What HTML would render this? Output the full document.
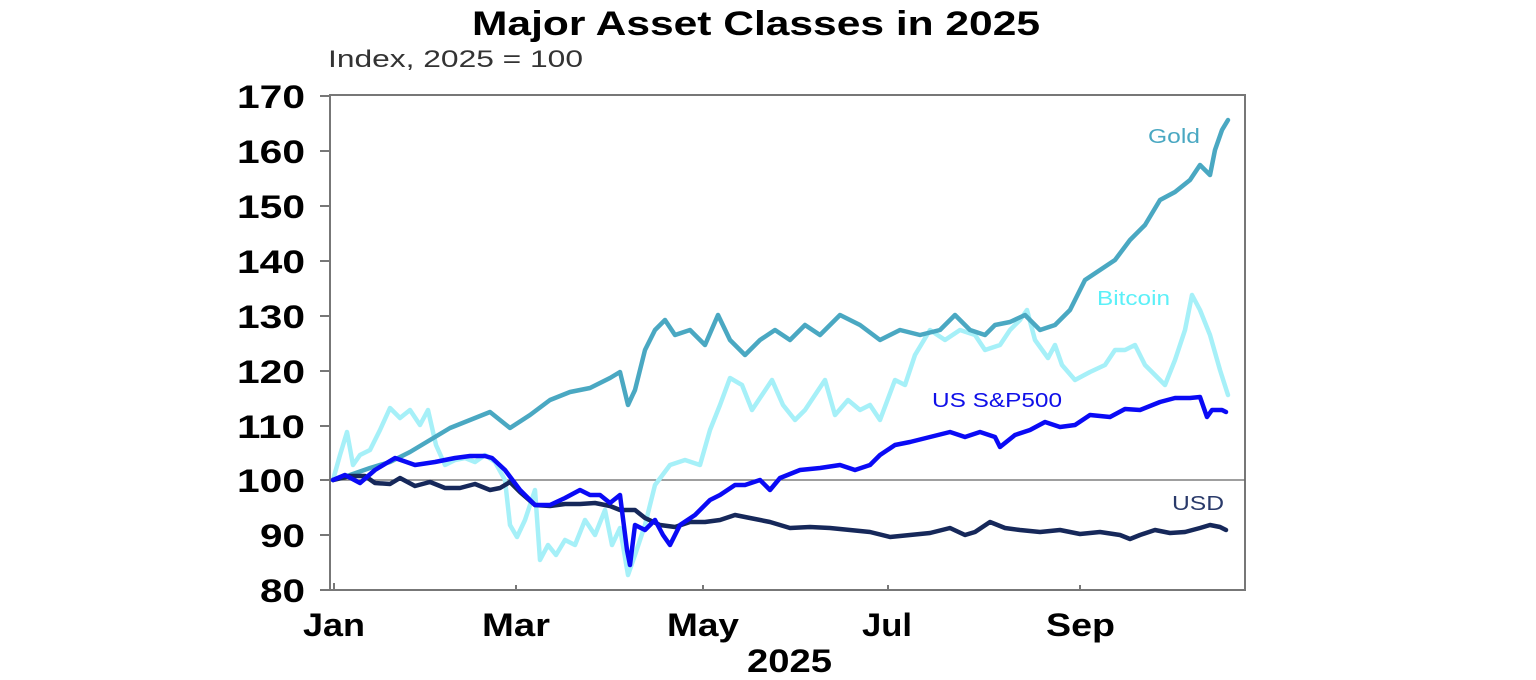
<!DOCTYPE html>
<html><head><meta charset="utf-8"><style>
html,body{margin:0;padding:0;background:#fff;}
svg{display:block;font-family:"Liberation Sans",Arial,sans-serif;}
</style></head><body>
<svg width="1536" height="680" viewBox="0 0 1536 680" xmlns="http://www.w3.org/2000/svg">
<text x="472" y="35" font-size="34" font-weight="bold" fill="#000" textLength="568" lengthAdjust="spacingAndGlyphs">Major Asset Classes in 2025</text>
<text x="328" y="67" font-size="24" fill="#333" textLength="255" lengthAdjust="spacingAndGlyphs">Index, 2025 = 100</text>
<g font-size="32" font-weight="bold" fill="#000">
<text x="237" y="108" textLength="68" lengthAdjust="spacingAndGlyphs">170</text>
<text x="237" y="163" textLength="68" lengthAdjust="spacingAndGlyphs">160</text>
<text x="237" y="218" textLength="68" lengthAdjust="spacingAndGlyphs">150</text>
<text x="237" y="273" textLength="68" lengthAdjust="spacingAndGlyphs">140</text>
<text x="237" y="328" textLength="68" lengthAdjust="spacingAndGlyphs">130</text>
<text x="237" y="383" textLength="68" lengthAdjust="spacingAndGlyphs">120</text>
<text x="237" y="438" textLength="68" lengthAdjust="spacingAndGlyphs">110</text>
<text x="237" y="492" textLength="68" lengthAdjust="spacingAndGlyphs">100</text>
<text x="260" y="547" textLength="45" lengthAdjust="spacingAndGlyphs">90</text>
<text x="260" y="602" textLength="45" lengthAdjust="spacingAndGlyphs">80</text>
</g>
<g font-size="32" font-weight="bold" fill="#000">
<text x="303" y="636" textLength="62" lengthAdjust="spacingAndGlyphs">Jan</text>
<text x="482" y="636" textLength="68" lengthAdjust="spacingAndGlyphs">Mar</text>
<text x="667" y="636" textLength="72" lengthAdjust="spacingAndGlyphs">May</text>
<text x="862" y="636" textLength="50" lengthAdjust="spacingAndGlyphs">Jul</text>
<text x="1046" y="636" textLength="69" lengthAdjust="spacingAndGlyphs">Sep</text>
<text x="747" y="672" textLength="85" lengthAdjust="spacingAndGlyphs">2025</text>
</g>
<rect x="330" y="95" width="915" height="495" fill="none" stroke="#777" stroke-width="2"/>
<line x1="330" y1="480" x2="1245" y2="480" stroke="#666" stroke-width="1.2"/>
<g stroke="#777" stroke-width="2">
<line x1="320" y1="96" x2="330" y2="96"/><line x1="320" y1="151" x2="330" y2="151"/><line x1="320" y1="206" x2="330" y2="206"/>
<line x1="320" y1="261" x2="330" y2="261"/><line x1="320" y1="316" x2="330" y2="316"/><line x1="320" y1="371" x2="330" y2="371"/>
<line x1="320" y1="426" x2="330" y2="426"/><line x1="320" y1="480" x2="330" y2="480"/><line x1="320" y1="535" x2="330" y2="535"/>
<line x1="320" y1="590" x2="330" y2="590"/>
<line x1="334" y1="583" x2="334" y2="590"/><line x1="516" y1="585" x2="516" y2="590"/><line x1="703" y1="585" x2="703" y2="590"/><line x1="888" y1="585" x2="888" y2="590"/><line x1="1080" y1="585" x2="1080" y2="590"/>
</g>
<g fill="none" stroke-width="4.5" stroke-linejoin="round" stroke-linecap="round">
<polyline stroke="#a6f0f8" points="333,480 340,455 347,432 353,465 360,455 370,450 380,430 390,408 400,418 410,410 420,425 428,410 436,445 445,465 455,460 465,458 475,462 485,455 495,462 505,480 510,525 517,537 525,520 535,490 540,560 548,545 556,555 565,540 575,545 585,520 595,535 605,510 612,545 620,528 628,575 635,555 645,525 655,485 670,465 685,460 700,465 710,430 720,405 730,378 742,385 752,410 762,395 772,380 783,405 795,420 805,410 815,395 825,380 835,415 848,400 860,410 870,405 880,420 895,380 905,385 915,355 930,330 945,340 960,330 975,335 985,350 1000,345 1010,330 1020,320 1027,310 1035,340 1048,358 1055,345 1062,365 1075,380 1090,372 1105,365 1115,350 1125,350 1135,345 1145,365 1155,375 1165,385 1175,360 1185,330 1192,295 1200,310 1210,335 1220,370 1228,395"/>
<polyline stroke="#4aa8c2" points="333,480 350,475 370,468 390,462 410,452 430,440 450,428 470,420 490,412 510,428 530,415 550,400 570,392 590,388 610,378 620,372 628,405 635,390 645,350 655,330 665,320 675,335 690,330 705,345 718,315 730,340 745,355 760,340 775,330 790,340 805,325 820,335 840,315 860,325 880,340 900,330 920,335 940,330 955,315 970,330 985,335 995,325 1010,322 1025,315 1040,330 1055,325 1070,310 1085,280 1100,270 1115,260 1130,240 1145,225 1160,200 1175,192 1190,180 1200,165 1210,175 1215,150 1222,130 1228,120"/>
<polyline stroke="#16285a" points="333,480 350,476 365,476 375,483 390,484 400,478 415,486 430,482 445,488 460,488 475,484 490,490 500,488 510,482 520,492 535,505 550,506 565,504 580,504 595,503 610,506 620,510 635,510 645,518 660,525 675,527 690,522 705,522 720,520 735,515 750,518 770,522 790,528 810,527 830,528 850,530 870,532 890,537 910,535 930,533 950,528 965,535 975,532 990,522 1005,528 1020,530 1040,532 1060,530 1080,534 1100,532 1120,535 1130,539 1140,535 1155,530 1170,533 1185,532 1200,528 1210,525 1220,527 1226,530"/>
<polyline stroke="#0a0af5" points="333,480 345,475 360,483 375,470 395,458 415,465 435,462 455,458 470,456 485,456 492,458 505,470 520,490 535,505 550,505 565,498 580,490 590,495 600,495 610,503 620,495 627,550 630,565 635,525 645,530 655,520 663,535 670,545 680,525 695,515 710,500 720,495 735,485 745,485 760,480 770,490 780,478 800,470 820,468 840,465 855,470 870,465 880,455 895,445 910,442 930,437 950,432 965,437 980,432 995,437 1000,447 1015,435 1030,430 1045,422 1060,427 1075,425 1090,415 1110,417 1125,409 1140,410 1160,402 1175,398 1190,398 1200,397 1207,417 1212,410 1222,410 1226,412"/>
</g>
<g font-size="20">
<text x="1148" y="143" fill="#4aa8c2" textLength="52" lengthAdjust="spacingAndGlyphs">Gold</text>
<text x="1097" y="305" fill="#5cf0f8" textLength="73" lengthAdjust="spacingAndGlyphs">Bitcoin</text>
<text x="932" y="407" fill="#1010e8" textLength="130" lengthAdjust="spacingAndGlyphs">US S&amp;P500</text>
<text x="1172" y="510" fill="#2a3a6a" textLength="52" lengthAdjust="spacingAndGlyphs">USD</text>
</g>
</svg>
</body></html>
